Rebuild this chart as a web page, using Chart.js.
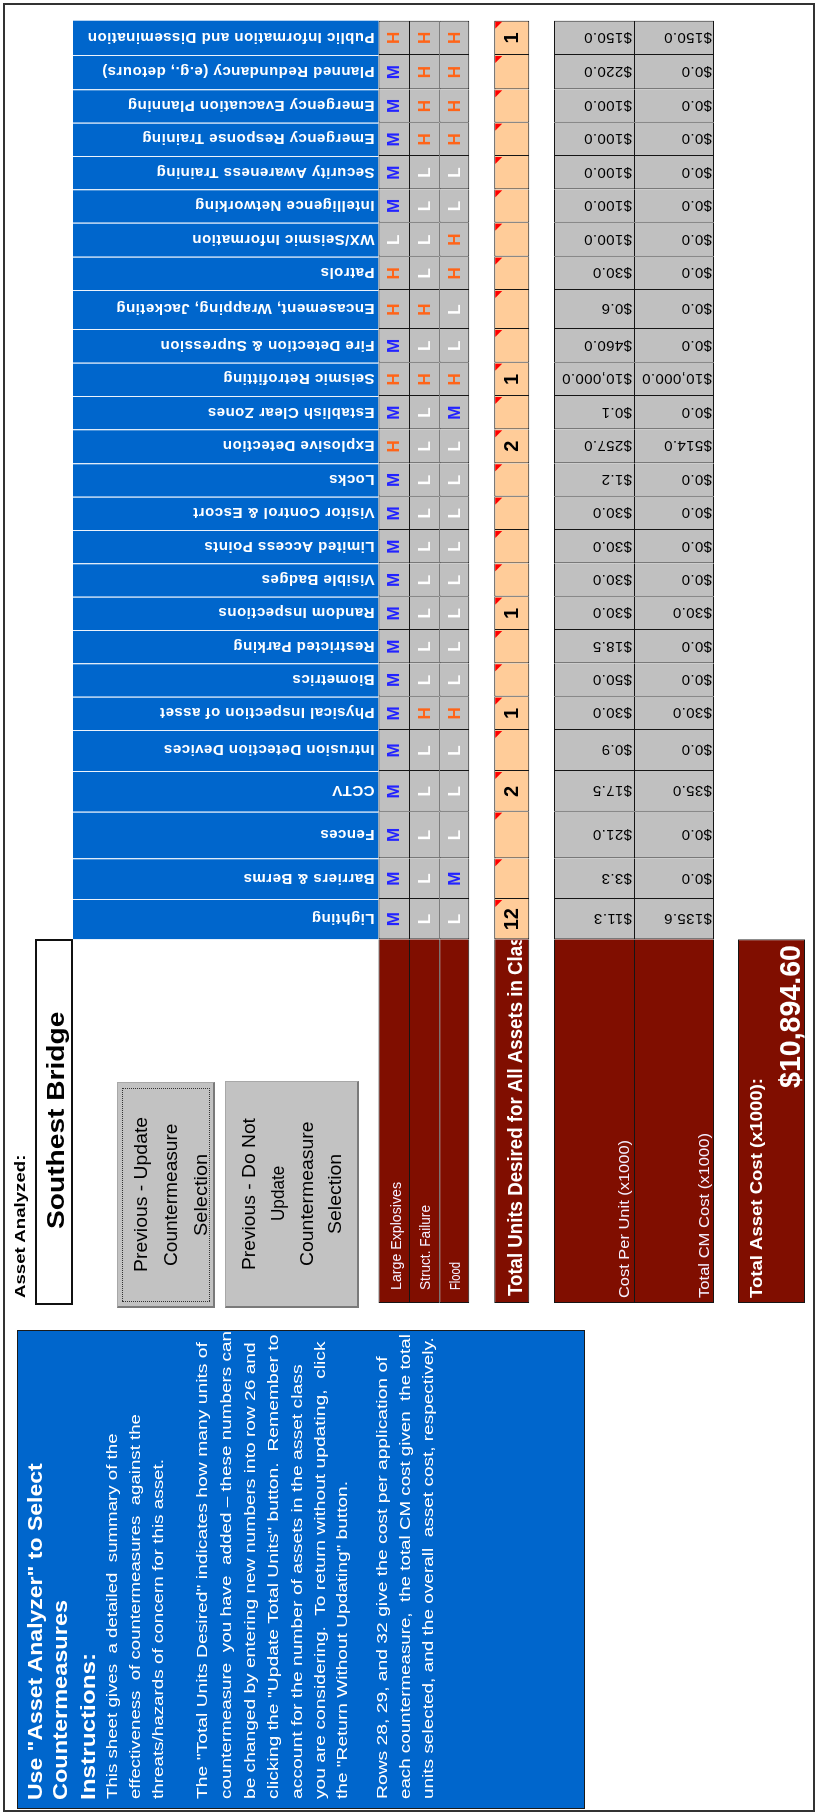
<!DOCTYPE html>
<html>
<head>
<meta charset="utf-8">
<title>Asset Analyzer - Southest Bridge</title>
<script src="https://cdn.jsdelivr.net/npm/chart.js@4.4.1/dist/chart.umd.min.js"></script>
<style>
html, body { margin: 0; padding: 0; background: #fff; width: 817px; height: 1818px; overflow: hidden; }
/* the sheet is laid out landscape and turned a quarter to fit the portrait page */
#page { position: absolute; left: 0; top: 0; width: 1818px; height: 817px; transform-origin: 0 0;
        transform: translate(0, 1818px) rotate(-90deg); font-family: "Liberation Sans", Arial, sans-serif; }
#frame { position: absolute; left: 6px; top: 3px; width: 1809px; height: 812px; border: 2px solid #333; box-sizing: border-box; }
#chartBox { position: absolute; left: 0; top: 0; width: 1818px; height: 817px; }
#panel { position: absolute; left: 9px; top: 17px; width: 479px; height: 568px; background: #0066cc;
         border: 1.5px solid #1a1a1a; box-sizing: border-box; }
#assetBox { position: absolute; left: 513px; top: 35px; width: 366px; height: 38px; border: 2px solid #111; box-sizing: border-box; background: #fff; }
.btn { position: absolute; background: #c2c2c2; box-sizing: border-box; border: 1px solid #a8a8a8;
       border-left: 2px solid #7a7a7a; border-bottom: 2px solid #7a7a7a; }
#focus { position: absolute; left: 516px; top: 122px; width: 214px; height: 88px; border: 1px dotted #333; box-sizing: border-box; }
.t { position: absolute; white-space: pre; line-height: 1; transform-origin: 0 50%; z-index: 3; }
.w { color: #fff; }
.b { font-weight: bold; }
</style>
</head>
<body>
<div id="page">
  <div id="frame"></div>
  <div id="chartBox"><canvas id="sheet" width="1818" height="817"></canvas></div>

  <div id="panel"></div>
  <div class="t w b" style="left:18px;top:24.5px;font-size:20px" data-w="337">Use "Asset Analyzer" to Select</div>
  <div class="t w b" style="left:18px;top:50px;font-size:20px" data-w="200">Countermeasures</div>
  <div class="t w b" style="left:18px;top:78px;font-size:20px" data-w="147">Instructions:</div>
  <div class="t w" style="left:19px;top:103.5px;font-size:15px" data-w="365">This sheet gives  a detailed  summary of the</div>
  <div class="t w" style="left:19px;top:126.5px;font-size:15px" data-w="385">effectiveness  of countermeasures  against the</div>
  <div class="t w" style="left:19px;top:149.5px;font-size:15px" data-w="340">threats/hazards of concern for this asset.</div>
  <div class="t w" style="left:19px;top:193.5px;font-size:15px" data-w="457">The "Total Units Desired" indicates how many units of</div>
  <div class="t w" style="left:19px;top:217.5px;font-size:15px" data-w="468">countermeasure  you have  added – these numbers can</div>
  <div class="t w" style="left:19px;top:241.5px;font-size:15px" data-w="457">be changed by entering new numbers into row 26 and</div>
  <div class="t w" style="left:19px;top:264.5px;font-size:15px" data-w="465">clicking the "Update Total Units" button.  Remember to</div>
  <div class="t w" style="left:19px;top:288.5px;font-size:15px" data-w="435">account for the number of assets in the asset class</div>
  <div class="t w" style="left:19px;top:311.5px;font-size:15px" data-w="457">you are considering.  To return without updating,  click</div>
  <div class="t w" style="left:19px;top:333.5px;font-size:15px" data-w="318">the "Return Without Updating" button.</div>
  <div class="t w" style="left:19px;top:373.5px;font-size:15px" data-w="442">Rows 28, 29, and 32 give the cost per application of</div>
  <div class="t w" style="left:19px;top:396.5px;font-size:15px" data-w="465">each countermeasure,  the total CM cost given  the total</div>
  <div class="t w" style="left:19px;top:419.5px;font-size:15px" data-w="462">units selected, and the overall  asset cost, respectively.</div>

  <div class="t b" style="left:520px;top:11.5px;font-size:15px" data-w="143">Asset Analyzed:</div>
  <div id="assetBox"></div>
  <div class="t b" style="top:43.5px;font-size:24px" data-cx="697" data-w="217">Southest Bridge</div>

  <div class="btn" style="left:510px;top:117px;width:226px;height:98px"></div>
  <div id="focus"></div>
  <div class="t" style="top:130.5px;font-size:19px" data-cx="623" data-w="155">Previous - Update</div>
  <div class="t" style="top:161px;font-size:19px" data-cx="623" data-w="143">Countermeasure</div>
  <div class="t" style="top:191px;font-size:19px" data-cx="623" data-w="82">Selection</div>

  <div class="btn" style="left:510px;top:225px;width:227px;height:134px"></div>
  <div class="t" style="top:238.5px;font-size:19px" data-cx="624" data-w="152">Previous - Do Not</div>
  <div class="t" style="top:267.5px;font-size:19px" data-cx="624" data-w="55">Update</div>
  <div class="t" style="top:296.5px;font-size:19px" data-cx="624" data-w="145">Countermeasure</div>
  <div class="t" style="top:324.5px;font-size:19px" data-cx="624" data-w="80">Selection</div>
</div>

<script>
// ---- data (Lighting ... Public Information) ----
const countermeasures = ['Lighting', 'Barriers & Berms', 'Fences', 'CCTV', 'Intrusion Detection Devices',
    'Physical Inspection of asset', 'Biometrics', 'Restricted Parking', 'Random Inspections', 'Visible Badges',
    'Limited Access Points', 'Visitor Control & Escort', 'Locks', 'Explosive Detection', 'Establish Clear Zones',
    'Seismic Retrofitting', 'Fire Detection & Supression', 'Encasement, Wrapping, Jacketing', 'Patrols',
    'WX/Seismic Information', 'Intelligence Networking', 'Security Awareness Training', 'Emergency Response Training',
    'Emergency Evacuation Planning', 'Planned Redundancy (e.g., detours)', 'Public Information and Dissemination'];
const threatNames = ['Large Explosives', 'Struct. Failure', 'Flood'];
const largeExplosives = ['M', 'M', 'M', 'M', 'M', 'M', 'M', 'M', 'M', 'M', 'M', 'M', 'M', 'H', 'M', 'H', 'M', 'H', 'H', 'L', 'M', 'M', 'M', 'M', 'M', 'H'];
const structFailure = ['L', 'L', 'L', 'L', 'L', 'H', 'L', 'L', 'L', 'L', 'L', 'L', 'L', 'L', 'L', 'H', 'L', 'H', 'L', 'L', 'L', 'L', 'H', 'H', 'H', 'H'];
const flood = ['L', 'M', 'L', 'L', 'L', 'H', 'L', 'L', 'L', 'L', 'L', 'L', 'L', 'L', 'M', 'H', 'L', 'L', 'H', 'H', 'L', 'L', 'H', 'H', 'H', 'H'];
const totalUnits = [12, null, null, 2, null, 1, null, null, 1, null, null, null, null, 2, null, 1, null, null, null, null, null, null, null, null, null, 1];
const costPerUnit = [11.3, 3.3, 21.0, 17.5, 0.9, 30.0, 50.0, 18.5, 30.0, 30.0, 30.0, 30.0, 1.2, 257.0, 0.1, 10000.0, 460.0, 0.6, 30.0, 100.0, 100.0, 100.0, 100.0, 100.0, 220.0, 150.0];
const totalCMCost = [135.6, 0, 0, 35.0, 0, 30.0, 0, 0, 30.0, 0, 0, 0, 0, 514.0, 0, 10000.0, 0, 0, 0, 0, 0, 0, 0, 0, 0, 150.0];
const totalAssetCost = 10894.60;

// ---- sheet layout, in page pixels ----
const PAGE_W = 1818, PAGE_H = 817;
const colWidths = [40.3, 40.7, 46.6, 40.7, 41, 33.3, 33.4, 33.3, 33.3, 33.4, 33.3, 33.3, 33.4, 34, 33.3, 33.3, 33.7, 39, 33.3, 34, 33.4, 33.3, 33.3, 33.4, 34.3, 34.3];
const gridLeft = 878.7;
const labelLeft = 515;
const bands = {
    header: [73, 378.5], le: [378.5, 409], sf: [409, 439.3], flood: [439.3, 469.3],
    units: [494.3, 529.3], cost: [554, 634], cmCost: [634, 714], asset: [738, 805]
};

const BLUE = '#0066cc', MAROON = '#800e00', GRAY = '#c0c0c0', PEACH = '#ffcc99', LINE = '#151515';
const letterColor = { M: '#2323ff', H: '#ff6418', L: '#ffffff' };
const FONT = '"Liberation Sans", Arial, sans-serif';

const colEdges = [];
let acc = gridLeft;
colWidths.forEach(w => { colEdges.push([acc, acc + w]); acc += w; });
const last = countermeasures.length;

function mid(band) { return (band[0] + band[1]) / 2; }
function rowData(band) {
    const y = mid(band);
    return [{ x: [labelLeft, gridLeft], y: y }].concat(colEdges.map(e => ({ x: e, y: y })));
}
function rowDataset(kind, band, fill, closeBottom, extra) {
    return Object.assign({
        kind: kind,
        data: rowData(band),
        barThickness: band[1] - band[0],
        grouped: false,
        inflateAmount: 0,
        borderSkipped: false,
        backgroundColor: [MAROON].concat(colEdges.map(() => fill)),
        borderColor: LINE,
        borderWidth: c => ({ top: 1, left: 1, right: c.dataIndex === last ? 1 : 0, bottom: closeBottom ? 1 : 0 })
    }, extra);
}
function money(v, d) {
    return '$' + v.toLocaleString('en-US', { minimumFractionDigits: d, maximumFractionDigits: d });
}

// text squeezed or stretched to the width it has on the sheet
function fillFit(ctx, text, x, y, w, align, measureOn) {
    ctx.save();
    ctx.textAlign = align || 'left';
    const s = w / ctx.measureText(measureOn || text).width;
    ctx.translate(x, y);
    ctx.scale(s, 1);
    ctx.fillText(text, 0, 0);
    ctx.restore();
}
function fillUp(ctx, text, x, y) {
    ctx.save();
    ctx.translate(x, y);
    ctx.rotate(-Math.PI / 2);
    ctx.fillText(text, 0, 0);
    ctx.restore();
}

const sheetText = {
    id: 'sheetText',
    afterDatasetsDraw(chart) {
        const ctx = chart.ctx;
        chart.data.datasets.forEach((ds, di) => {
            chart.getDatasetMeta(di).data.forEach((bar, j) => {
                const left = Math.min(bar.base, bar.x), right = Math.max(bar.base, bar.x);
                const top = bar.y - bar.height / 2, bottom = bar.y + bar.height / 2;
                const cx = (left + right) / 2;
                ctx.save();
                if (ds.kind === 'header') {
                    ctx.font = 'bold 15px ' + FONT;
                    ctx.letterSpacing = '0.5px';
                    ctx.fillStyle = '#fff';
                    ctx.textAlign = 'left';
                    ctx.textBaseline = 'middle';
                    fillUp(ctx, countermeasures[j], cx + 1, bottom - 4);
                } else if (j === 0 && ds.kind !== 'asset') {
                    ctx.fillStyle = '#f4f0ff';
                    ctx.font = (ds.kind === 'units' ? 'bold 21px ' : '14px ') + FONT;
                    ctx.textBaseline = 'alphabetic';
                    if (ds.kind === 'units') {
                        ctx.beginPath();
                        ctx.rect(left, top, right - left - 1, bottom - top);
                        ctx.clip();
                        ctx.fillStyle = '#fff';
                        fillFit(ctx, ds.name, 522, bottom - 7, 350, 'left', 'Total Units Desired for All Assets in Cla');
                    } else {
                        fillFit(ctx, ds.name, ds.nameX, bottom - ds.nameLift, ds.nameW, 'left');
                    }
                } else if (ds.kind === 'threat') {
                    const v = ds.values[j - 1];
                    ctx.font = 'bold 17px ' + FONT;
                    ctx.fillStyle = letterColor[v];
                    ctx.textAlign = 'center';
                    ctx.textBaseline = 'middle';
                    ctx.fillText(v, cx, bar.y + 1);
                } else if (ds.kind === 'units') {
                    ctx.fillStyle = '#ff0000';
                    ctx.beginPath();
                    ctx.moveTo(right - 1, top + 1);
                    ctx.lineTo(right - 8, top + 1);
                    ctx.lineTo(right - 1, top + 8);
                    ctx.closePath();
                    ctx.fill();
                    const v = totalUnits[j - 1];
                    if (v !== null) {
                        ctx.font = 'bold 20px ' + FONT;
                        ctx.fillStyle = '#000';
                        ctx.textAlign = 'center';
                        ctx.textBaseline = 'middle';
                        ctx.fillText(String(v), cx, bar.y + 1);
                    }
                } else if (ds.kind === 'cost') {
                    ctx.font = '15px ' + FONT;
                    ctx.letterSpacing = '0.4px';
                    ctx.fillStyle = '#000';
                    ctx.textAlign = 'left';
                    ctx.textBaseline = 'middle';
                    fillUp(ctx, money(ds.values[j - 1], 1), cx + 1, bottom - 2);
                } else if (ds.kind === 'asset') {
                    ctx.fillStyle = '#fff';
                    ctx.textBaseline = 'alphabetic';
                    ctx.font = 'bold 17px ' + FONT;
                    fillFit(ctx, 'Total Asset Cost (x1000):', 520, top + 24, 220, 'left');
                    ctx.font = 'bold 29px ' + FONT;
                    fillFit(ctx, money(totalAssetCost, 2), 873, top + 61.5, 143, 'right');
                }
                ctx.restore();
            });
        });
    }
};

function buildSheet() {
    const headerY = mid(bands.header);
    new Chart('sheet', {
        type: 'bar',
        data: {
            datasets: [
                {
                    kind: 'header',
                    data: colEdges.map(e => ({ x: e, y: headerY })),
                    barThickness: bands.header[1] - bands.header[0],
                    grouped: false,
                    inflateAmount: 0,
                    borderSkipped: false,
                    backgroundColor: BLUE,
                    borderColor: 'rgba(235,242,252,0.95)',
                    borderWidth: c => ({ right: c.dataIndex < last - 1 ? 1 : 0 })
                },
                rowDataset('threat', bands.le, GRAY, false, { name: threatNames[0], values: largeExplosives, nameX: 528, nameW: 108, nameLift: 8.5 }),
                rowDataset('threat', bands.sf, GRAY, false, { name: threatNames[1], values: structFailure, nameX: 528, nameW: 85, nameLift: 9 }),
                rowDataset('threat', bands.flood, GRAY, true, { name: threatNames[2], values: flood, nameX: 528, nameW: 28, nameLift: 9 }),
                rowDataset('units', bands.units, PEACH, true, { name: 'Total Units Desired for All Assets in Class' }),
                rowDataset('cost', bands.cost, GRAY, false, { name: 'Cost Per Unit (x1000)', values: costPerUnit, nameX: 520, nameW: 158, nameLift: 5 }),
                rowDataset('cost', bands.cmCost, GRAY, true, { name: 'Total CM Cost (x1000)', values: totalCMCost, nameX: 520, nameW: 165, nameLift: 5.5 }),
                {
                    kind: 'asset',
                    data: [{ x: [labelLeft, gridLeft], y: mid(bands.asset) }],
                    barThickness: bands.asset[1] - bands.asset[0],
                    grouped: false,
                    inflateAmount: 0,
                    borderSkipped: false,
                    backgroundColor: MAROON,
                    borderColor: LINE,
                    borderWidth: 1
                }
            ]
        },
        options: {
            indexAxis: 'y',
            responsive: false,
            animation: false,
            events: [],
            layout: { padding: 0 },
            scales: {
                x: { type: 'linear', min: 0, max: PAGE_W, offset: false, display: false },
                y: { type: 'linear', min: 0, max: PAGE_H, reverse: true, offset: false, display: false }
            },
            plugins: { legend: { display: false }, tooltip: { enabled: false } }
        },
        plugins: [sheetText]
    });
}

function fitLabels() {
    document.querySelectorAll('.t').forEach(el => {
        const w = +el.dataset.w;
        const s = w / el.offsetWidth;
        el.style.transform = 'scaleX(' + s + ')';
        if (el.dataset.cx) el.style.left = (+el.dataset.cx - w / 2) + 'px';
    });
}

document.fonts.ready.then(() => {
    fitLabels();
    buildSheet();
});
</script>
</body>
</html>
